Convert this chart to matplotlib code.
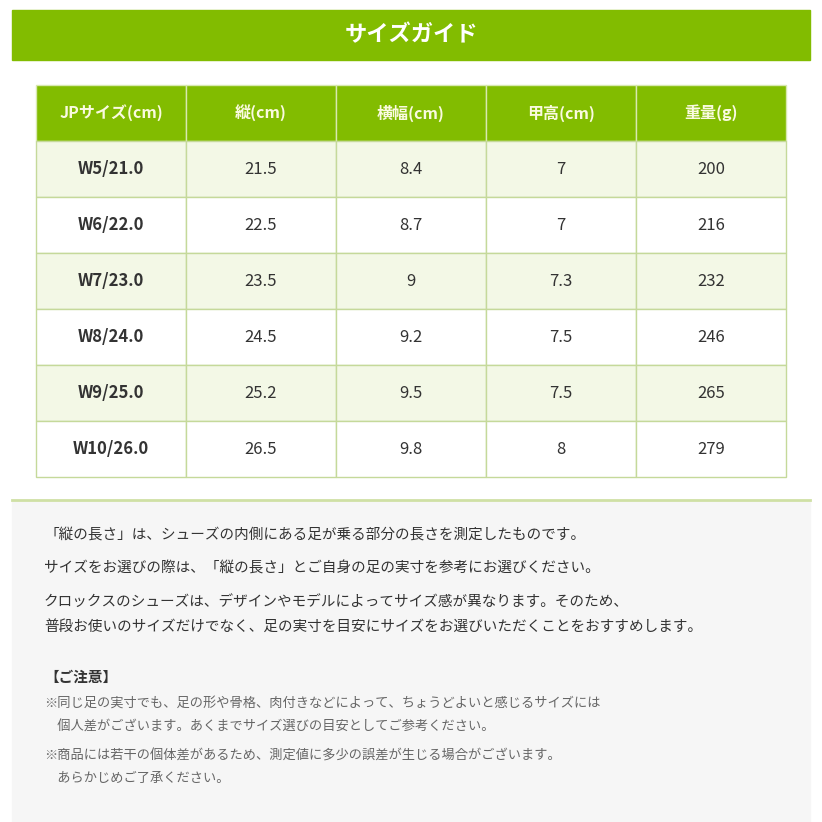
import matplotlib
matplotlib.use("Agg")
import matplotlib.pyplot as plt
from matplotlib.patches import Rectangle

plt.rcParams['font.family'] = ['Noto Sans CJK JP', 'DejaVu Sans']

title = "サイズガイド"
headers = ["JPサイズ(cm)", "縦(cm)", "横幅(cm)", "甲高(cm)", "重量(g)"]
sizes = ["W5/21.0", "W6/22.0", "W7/23.0", "W8/24.0", "W9/25.0", "W10/26.0"]
lengths = ["21.5", "22.5", "23.5", "24.5", "25.2", "26.5"]
widths = ["8.4", "8.7", "9", "9.2", "9.5", "9.8"]
heights = ["7", "7", "7.3", "7.5", "7.5", "8"]
weights = ["200", "216", "232", "246", "265", "279"]
notes = [
    ("「縦の長さ」は、シューズの内側にある足が乗る部分の長さを測定したものです。", 535, 10.5, "normal", "#333333"),
    ("サイズをお選びの際は、「縦の長さ」とご自身の足の実寸を参考にお選びください。", 568, 10.5, "normal", "#333333"),
    ("クロックスのシューズは、デザインやモデルによってサイズ感が異なります。そのため、", 602, 10.5, "normal", "#333333"),
    ("普段お使いのサイズだけでなく、足の実寸を目安にサイズをお選びいただくことをおすすめします。", 627, 10.5, "normal", "#333333"),
    ("【ご注意】", 677, 10.5, "bold", "#333333"),
    ("※同じ足の実寸でも、足の形や骨格、肉付きなどによって、ちょうどよいと感じるサイズには", 703, 9.5, "normal", "#666666"),
    ("　個人差がございます。あくまでサイズ選びの目安としてご参考ください。", 727, 9.5, "normal", "#666666"),
    ("※商品には若干の個体差があるため、測定値に多少の誤差が生じる場合がございます。", 756, 9.5, "normal", "#666666"),
    ("　あらかじめご了承ください。", 778, 9.5, "normal", "#666666"),
]

GREEN = "#82bc00"
fig = plt.figure(figsize=(8.22, 8.22), dpi=100)
ax = fig.add_axes([0, 0, 1, 1])
ax.set_xlim(0, 822); ax.set_ylim(822, 0); ax.axis('off')

ax.add_patch(Rectangle((12, 10), 798, 50, color=GREEN))
ax.text(411, 35, title, color="white", fontsize=16, fontweight="bold", ha="center", va="center")

x0, w, y0, hh, rh = 36, 150, 85, 56, 56
cols = [sizes, lengths, widths, heights, weights]
border = "#c5d99a"
for j, h in enumerate(headers):
    ax.add_patch(Rectangle((x0 + j*w, y0), w, hh, facecolor=GREEN, edgecolor="#d8e8b0", lw=1))
    ax.text(x0 + j*w + w/2, y0 + hh/2, h, color="#fafae0", fontsize=11.5, fontweight="bold", ha="center", va="center")
for i in range(len(sizes)):
    y = y0 + hh + i*rh
    fc = "#f3f8e6" if i % 2 == 0 else "white"
    for j, col in enumerate(cols):
        ax.add_patch(Rectangle((x0 + j*w, y), w, rh, facecolor=fc, edgecolor=border, lw=1))
        ax.text(x0 + j*w + w/2, y + rh/2, col[i], color="#333333", fontsize=12,
                fontweight="bold" if j == 0 else "normal", ha="center", va="center")

ax.add_patch(Rectangle((12, 500), 798, 322, color="#f6f6f6"))
ax.plot([12, 810], [500, 500], color="#cfe0a5", lw=2)
for t, y, fs, fw, c in notes:
    ax.text(44, y, t, fontsize=fs, fontweight=fw, color=c, ha="left", va="center")

fig.savefig("out.png", dpi=100)
